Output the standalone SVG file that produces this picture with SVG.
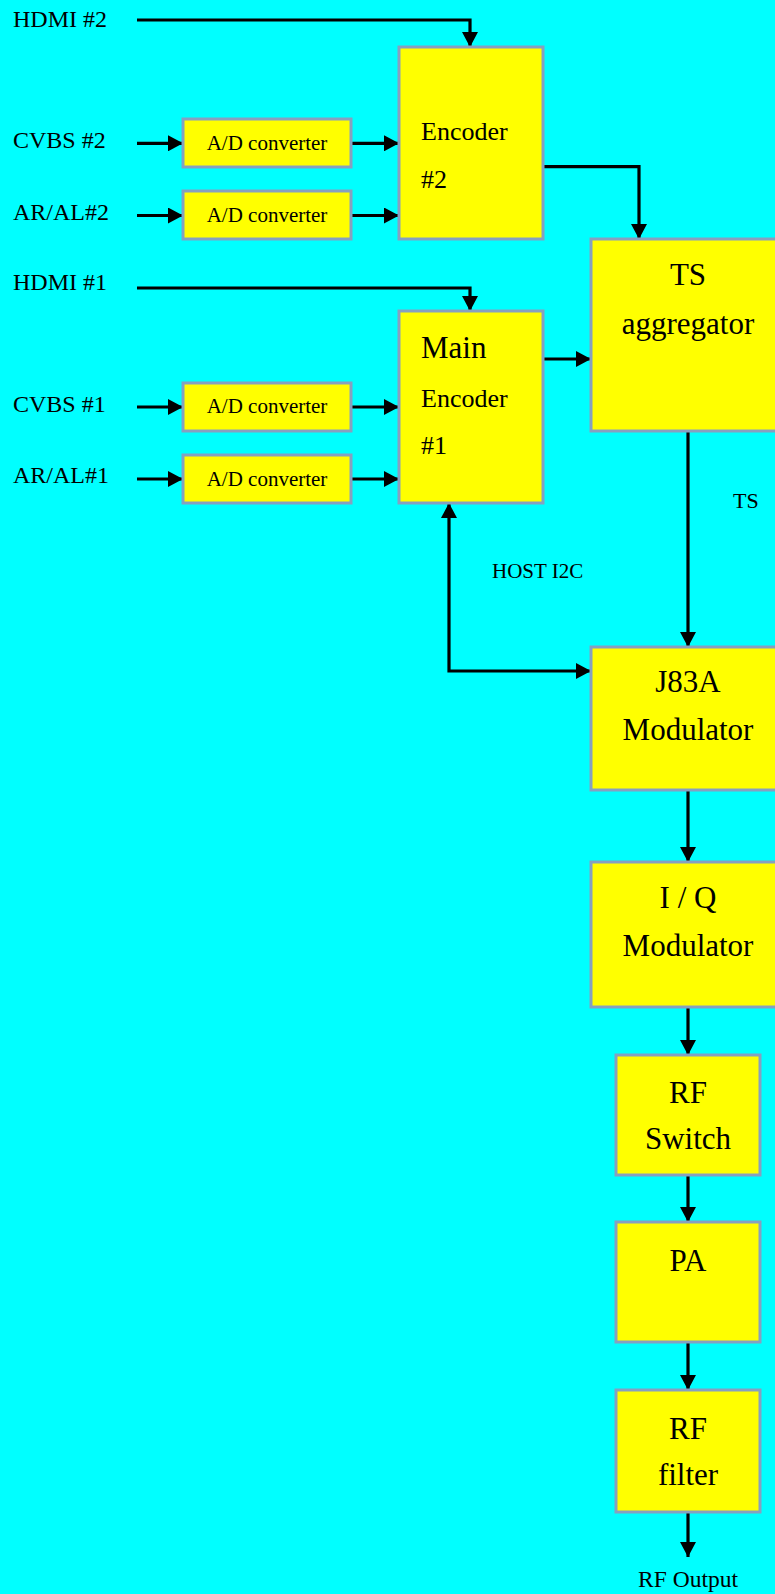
<svg xmlns="http://www.w3.org/2000/svg" width="775" height="1594" viewBox="0 0 775 1594">
<defs>
<marker id="ah" markerUnits="userSpaceOnUse" markerWidth="16" markerHeight="16" refX="15" refY="8" orient="auto-start-reverse">
<path d="M0,0 L15,8 L0,16 z" fill="#000"/>
</marker>
<style>
.box{fill:#ffff00;stroke:#86a0c0;stroke-width:3}
.con{fill:none;stroke:#000;stroke-width:3.2;marker-end:url(#ah)}
.t{font-family:"Liberation Serif","Times New Roman",serif;fill:#000}
.lab{font-size:24px}
.ad{font-size:21px;text-anchor:middle}
.big{font-size:31px;text-anchor:middle}
.enc{font-size:26px}
</style>
</defs>
<rect x="0" y="0" width="775" height="1594" fill="#00ffff"/>

<g id="labels">
<text class="t lab" x="13" y="27">HDMI #2</text>
<text class="t lab" x="13" y="148">CVBS #2</text>
<text class="t lab" x="13" y="220">AR/AL#2</text>
<text class="t lab" x="13" y="290">HDMI #1</text>
<text class="t lab" x="13" y="412">CVBS #1</text>
<text class="t lab" x="13" y="483">AR/AL#1</text>
<text class="t" x="733" y="508" font-size="22">TS</text>
<text class="t" x="492" y="578" font-size="21">HOST I2C</text>
<text class="t" x="688" y="1587" font-size="23.5" text-anchor="middle">RF Output</text>
</g>

<g id="connectors">
<path class="con" d="M137,20 H470 V47"/>
<path class="con" d="M137,143.3 H183"/>
<path class="con" d="M351,143.3 H399"/>
<path class="con" d="M137,215.5 H183"/>
<path class="con" d="M351,215.5 H399"/>
<path class="con" d="M543,166.7 H639 V239"/>
<path class="con" d="M137,288 H470 V311"/>
<path class="con" d="M137,407 H183"/>
<path class="con" d="M351,407 H399"/>
<path class="con" d="M137,479 H183"/>
<path class="con" d="M351,479 H399"/>
<path class="con" d="M543,359 H591"/>
<path class="con" d="M688,431 V647"/>
<path class="con" d="M449,503 V671 H591" marker-start="url(#ah)"/>
<path class="con" d="M688,790 V862"/>
<path class="con" d="M688,1007 V1055"/>
<path class="con" d="M688,1175 V1222"/>
<path class="con" d="M688,1342 V1390"/>
<path class="con" d="M688,1512 V1557"/>
</g>

<g id="ad2a"><rect class="box" x="183" y="119" width="168" height="48"/><text class="t ad" x="267" y="150">A/D converter</text></g>
<g id="ad2b"><rect class="box" x="183" y="191" width="168" height="48"/><text class="t ad" x="267" y="222">A/D converter</text></g>
<g id="ad1a"><rect class="box" x="183" y="383" width="168" height="48"/><text class="t ad" x="267" y="413">A/D converter</text></g>
<g id="ad1b"><rect class="box" x="183" y="455" width="168" height="48"/><text class="t ad" x="267" y="486">A/D converter</text></g>

<g id="encoder2"><rect class="box" x="399" y="47" width="144" height="192"/>
<text class="t enc" x="421" y="140">Encoder</text><text class="t enc" x="421" y="188">#2</text></g>

<g id="mainencoder"><rect class="box" x="399" y="311" width="144" height="192"/>
<text class="t" x="421" y="358" font-size="31">Main</text>
<text class="t enc" x="421" y="407">Encoder</text><text class="t enc" x="421" y="454">#1</text></g>

<g id="tsagg"><rect class="box" x="591" y="239" width="187" height="192"/>
<text class="t big" x="688" y="285">TS</text><text class="t big" x="688" y="334">aggregator</text></g>

<g id="j83a"><rect class="box" x="591" y="647" width="187" height="143"/>
<text class="t big" x="688" y="692">J83A</text><text class="t big" x="688" y="740">Modulator</text></g>

<g id="iq"><rect class="box" x="591" y="862" width="187" height="145"/>
<text class="t big" x="688" y="908">I / Q</text><text class="t big" x="688" y="956">Modulator</text></g>

<g id="rfswitch"><rect class="box" x="616" y="1055" width="144" height="120"/>
<text class="t big" x="688" y="1103">RF</text><text class="t big" x="688" y="1149">Switch</text></g>

<g id="pa"><rect class="box" x="616" y="1222" width="144" height="120"/>
<text class="t big" x="688" y="1271">PA</text></g>

<g id="rffilter"><rect class="box" x="616" y="1390" width="144" height="122"/>
<text class="t big" x="688" y="1439">RF</text><text class="t big" x="688" y="1485">filter</text></g>
</svg>
